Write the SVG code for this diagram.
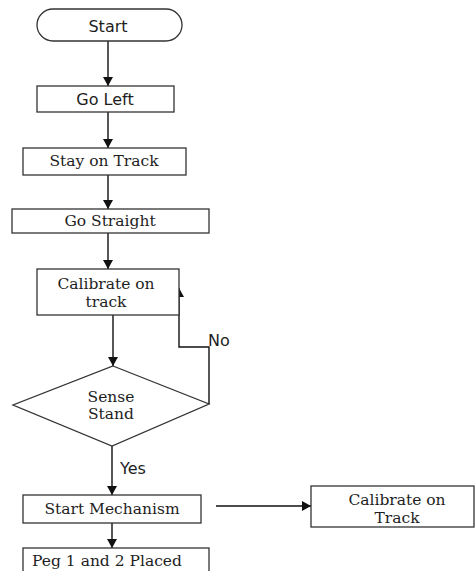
<svg xmlns="http://www.w3.org/2000/svg" width="476" height="571" viewBox="0 0 476 571">
<style>
.box{fill:#fff;stroke:#333;stroke-width:1.3}
.ln{fill:none;stroke:#111;stroke-width:1.4}
.sf{font-family:"DejaVu Serif","Liberation Serif",serif;font-size:15.5px;fill:#1e1e1e;text-anchor:middle;dominant-baseline:central}
.ss{font-family:"DejaVu Sans","Liberation Sans",sans-serif;font-size:16px;fill:#1e1e1e;text-anchor:middle;dominant-baseline:central}
</style>
<defs>
<marker id="ah" viewBox="0 0 10 10" refX="10" refY="5" markerWidth="9" markerHeight="10" markerUnits="userSpaceOnUse" orient="auto" preserveAspectRatio="none">
<path d="M0,0 L10,5 L0,10 z" fill="#111"/>
</marker>
</defs>
<rect width="476" height="571" fill="#fff"/>
<g id="connectors">
<line class="ln" x1="108" y1="41" x2="108" y2="86" marker-end="url(#ah)"/>
<line class="ln" x1="108" y1="112" x2="108" y2="148" marker-end="url(#ah)"/>
<line class="ln" x1="108" y1="175" x2="108" y2="209" marker-end="url(#ah)"/>
<line class="ln" x1="108" y1="233" x2="108" y2="269" marker-end="url(#ah)"/>
<line class="ln" x1="113" y1="315" x2="113" y2="366" marker-end="url(#ah)"/>
<polyline class="ln" points="209,404 209,347 179,347 179,288" marker-end="url(#ah)"/>
<line class="ln" x1="112" y1="446" x2="112" y2="495" marker-end="url(#ah)"/>
<line class="ln" x1="112" y1="523" x2="112" y2="548" marker-end="url(#ah)"/>
<line class="ln" x1="216" y1="506" x2="311" y2="506" marker-end="url(#ah)"/>
<text class="ss" x="219" y="340">No</text>
<text class="ss" x="133" y="468">Yes</text>
</g>
<g id="start">
<rect class="box" x="37" y="9" width="145" height="32" rx="16" ry="16"/>
<text class="ss" x="108" y="26">Start</text>
</g>
<g id="go-left">
<rect class="box" x="37" y="86" width="137" height="26"/>
<text class="ss" x="105" y="99">Go Left</text>
</g>
<g id="stay-on-track">
<rect class="box" x="23" y="148" width="163" height="27"/>
<text class="sf" x="104" y="161">Stay on Track</text>
</g>
<g id="go-straight">
<rect class="box" x="12" y="209" width="197" height="24"/>
<text class="sf" x="110" y="221">Go Straight</text>
</g>
<g id="calibrate-on-track">
<rect class="box" x="37" y="269" width="142" height="46"/>
<text class="sf" x="106" y="284">Calibrate on</text>
<text class="sf" x="106" y="302">track</text>
</g>
<g id="sense-stand">
<polygon class="box" points="113,366 209,404 112,446 13,405"/>
<text class="sf" x="111" y="397">Sense</text>
<text class="sf" x="111" y="414">Stand</text>
</g>
<g id="start-mechanism">
<rect class="box" x="23" y="495" width="178" height="28"/>
<text class="sf" x="112" y="509">Start Mechanism</text>
</g>
<g id="peg-placed">
<rect class="box" x="23" y="548" width="186" height="30"/>
<text class="sf" x="107" y="561">Peg 1 and 2 Placed</text>
</g>
<g id="calibrate-on-track-2">
<rect class="box" x="311" y="486" width="163" height="41"/>
<text class="sf" x="397" y="500">Calibrate on</text>
<text class="sf" x="397" y="518">Track</text>
</g>
</svg>
